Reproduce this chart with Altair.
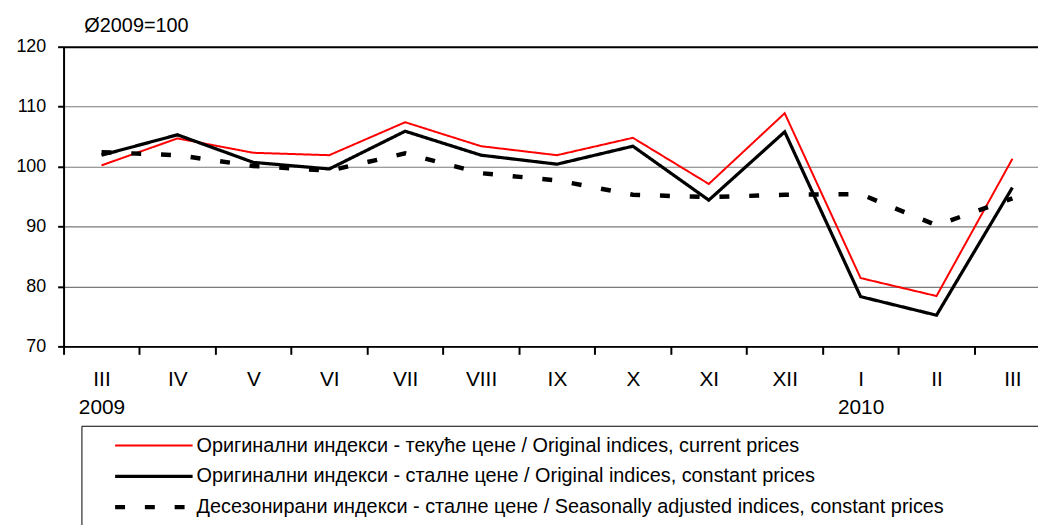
import json
import altair as alt
import pandas as pd

months = ["III", "IV", "V", "VI", "VII", "VIII", "IX", "X", "XI", "XII", "I", "II", "III"]
years = ["2009", "", "", "", "", "", "", "", "", "", "2010", "", ""]

current = [100.2, 104.7, 102.3, 101.9, 107.4, 103.4, 101.9, 104.8, 97.1, 108.9, 81.4, 78.4, 101.3]
constant = [101.9, 105.3, 100.7, 99.6, 105.9, 101.9, 100.4, 103.4, 94.4, 105.8, 78.3, 75.2, 96.5]
seas_adj = [102.4, 101.9, 100.1, 99.3, 102.2, 98.9, 97.7, 95.3, 94.9, 95.3, 95.4, 90.2, 94.7]

names = [
    "Оригинални индекси - текуће цене / Original indices, current prices",
    "Оригинални индекси - сталне цене / Original indices, constant prices",
    "Десезонирани индекси - сталне цене / Seasonally adjusted indices, constant prices",
]
colors = ["#ff0000", "#000000", "#000000"]
dashes = [[1, 0], [1, 0], [10, 20]]
widths = [2, 4.5, 6]

rows = []
for name, series in zip(names, [current, constant, seas_adj]):
    for k, v in enumerate(series):
        rows.append({"k": k, "value": v, "series": name})
df = pd.DataFrame(rows)

FONT = "Liberation Sans, Arial, sans-serif"

label_arr = [[m, y] if y else m for m, y in zip(months, years)]
label_expr = "datum.value % 1 === 0 ? " + json.dumps(label_arr, ensure_ascii=False) + "[datum.value] : ''"

x_vals = [i * 0.5 - 0.5 for i in range(26)]

legend = alt.Legend(
    title=" ",
    titleOrient="right",
    titlePadding=85,
    orient="none",
    legendX=18,
    legendY=382,
    symbolType="M-10,0H10",
    symbolSize=61,
    symbolOffset=53,
    labelOffset=33,
    labelFontSize=20,
    labelFont=FONT,
    labelColor="black",
    labelLimit=2000,
    rowPadding=11,
    padding=10,
    strokeColor="black",
    fillColor="white",
)

base = alt.Chart(df).encode(
    x=alt.X(
        "k:Q",
        scale=alt.Scale(domain=[-0.5, 12.337], nice=False, zero=False),
        axis=alt.Axis(
            values=x_vals,
            labelExpr=label_expr,
            title=None,
            grid=False,
            labelOverlap=False,
            labelFlush=False,
            labelBound=False,
            labelFontSize=21,
            labelFont=FONT,
            labelColor="black",
            labelPadding=14,
            labelLineHeight=29,
            tickSize=8,
            tickWidth=2,
            tickColor={"condition": {"test": "datum.value % 1 !== 0", "value": "black"}, "value": "transparent"},
            domainColor="black",
            domainWidth=2,
        ),
    ),
    y=alt.Y(
        "value:Q",
        scale=alt.Scale(domain=[70, 120], nice=False, zero=False),
        axis=alt.Axis(
            values=[70, 80, 90, 100, 110, 120],
            title=None,
            grid=True,
            gridColor={"condition": {"test": "datum.value === 120", "value": "black"}, "value": "#7a7a7a"},
            gridWidth={"condition": {"test": "datum.value === 120", "value": 2}, "value": 1.2},
            labelFontSize=18,
            labelFont=FONT,
            labelColor="black",
            labelPadding=12,
            tickSize=6,
            tickWidth=2,
            tickColor="black",
            domainColor="black",
            domainWidth=2,
        ),
    ),
    color=alt.Color("series:N", scale=alt.Scale(domain=names, range=colors), legend=legend),
    strokeDash=alt.StrokeDash("series:N", scale=alt.Scale(domain=names, range=dashes), legend=legend),
    strokeWidth=alt.StrokeWidth("series:N", scale=alt.Scale(domain=names, range=widths), legend=legend),
)

layers = [
    base.transform_filter(alt.datum.series == n).mark_line(strokeCap="butt")
    for n in names
]

chart = alt.layer(*layers).properties(
    width=982,
    height=302,
    padding={"left": 56, "top": 37, "right": 0, "bottom": 178},
    autosize=alt.AutoSizeParams(type="none"),
    title=alt.TitleParams(
        "Ø2009=100",
        anchor="start",
        dx=69,
        fontSize=20,
        font=FONT,
        fontWeight="normal",
        color="black",
        offset=2,
    ),
).configure_view(stroke=None).configure(background="white")

chart.save("out.html", embed_options={"renderer": "svg", "actions": False})
